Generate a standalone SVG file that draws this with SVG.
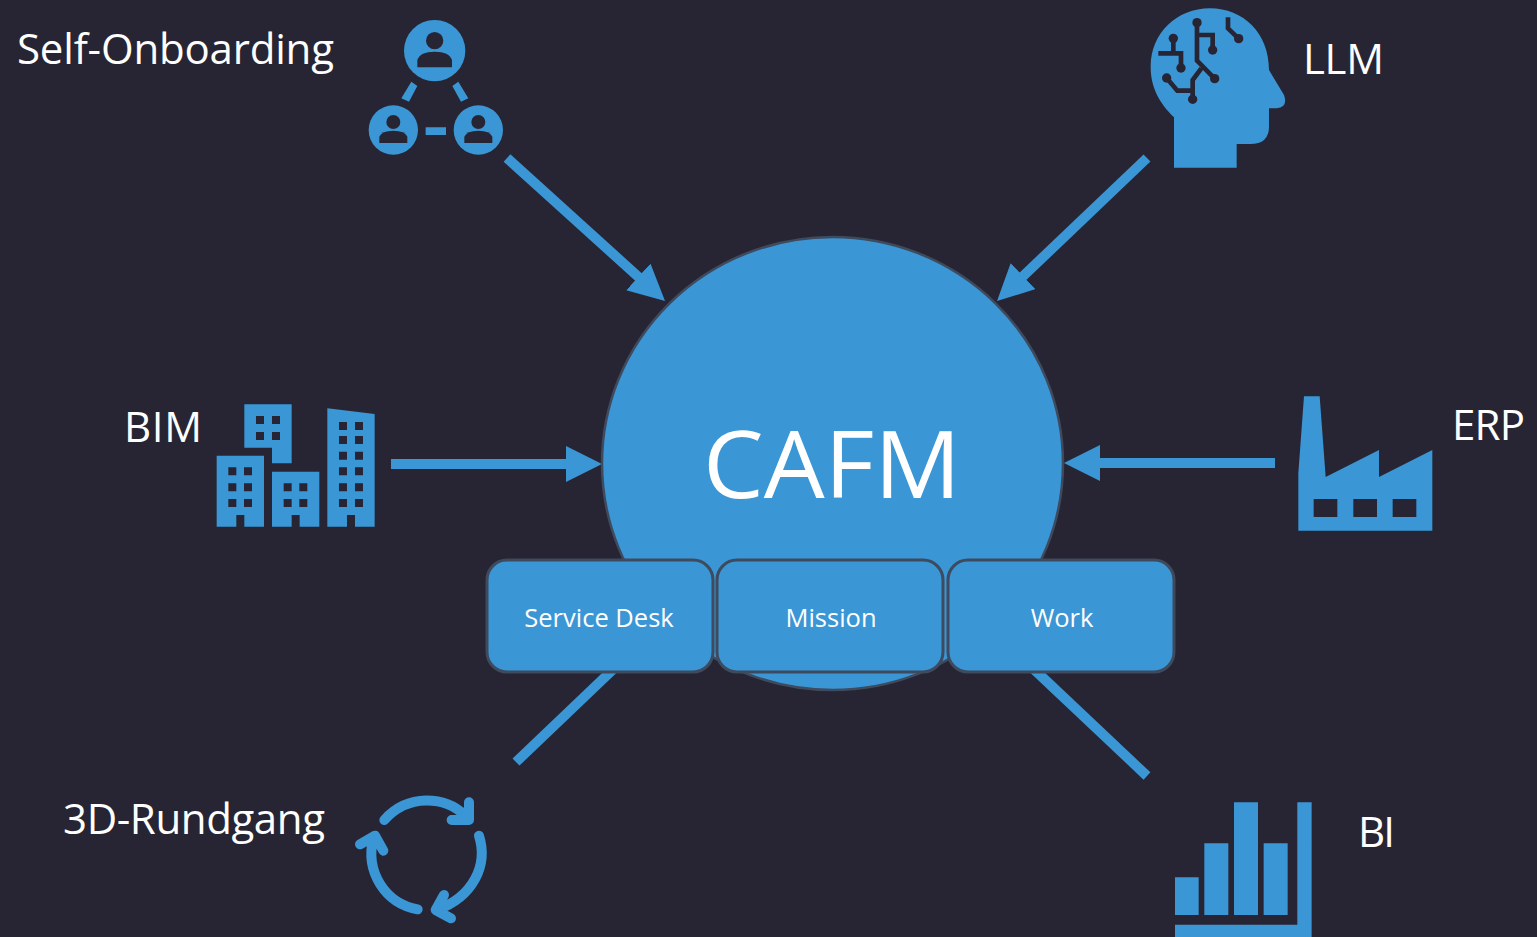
<svg xmlns="http://www.w3.org/2000/svg" width="1537" height="937" viewBox="0 0 1537 937">
<style>
text{font-family:"Open Sans","Noto Sans","Liberation Sans",sans-serif;fill:#fff}
.b{fill:#3B96D5}
.d{fill:#272533}
.c{fill:none;stroke:#272533;stroke-width:14;stroke-linejoin:miter}
.e{fill:none;stroke:#3B96D5;stroke-width:10}
.r{fill:none;stroke:#3B96D5;stroke-width:30;stroke-linecap:round;stroke-linejoin:round}
.box{fill:#3B96D5;stroke:#3E4A5E;stroke-width:3}
.l{font-size:42px}
.s{font-size:25.500px;text-anchor:middle}
</style>
<defs>
<marker id="ah" markerUnits="userSpaceOnUse" markerWidth="38" markerHeight="38" refX="16" refY="18" orient="auto"><path d="M0 0L36 18L0 36Z" fill="#3B96D5"/></marker>
</defs>
<rect width="1537" height="937" fill="#272533"/>
<g id="connectors">
<line class="e" x1="507" y1="158" x2="650.200" y2="287.600" marker-end="url(#ah)"/>
<line class="e" x1="1147" y1="158" x2="1011.500" y2="287.200" marker-end="url(#ah)"/>
<line class="e" x1="391" y1="464" x2="582" y2="464" marker-end="url(#ah)"/>
<line class="e" x1="1275" y1="463" x2="1084" y2="463" marker-end="url(#ah)"/>
<line class="e" x1="516" y1="762" x2="625" y2="658"/>
<line class="e" x1="1147" y1="776" x2="1022" y2="658"/>
</g>
<g id="cafm">
<ellipse cx="832.500" cy="463.500" rx="230.500" ry="226.500" class="b" stroke="#3E4A5E" stroke-width="2.500"/>
<text x="703" y="498" font-size="94" textLength="258" lengthAdjust="spacingAndGlyphs">CAFM</text>
</g>
<g id="service-desk"><rect class="box" x="487" y="560" width="226" height="112" rx="20"/><text class="s" x="599" y="627">Service Desk</text></g>
<g id="mission"><rect class="box" x="717" y="560" width="226" height="112" rx="20"/><text class="s" x="831" y="627">Mission</text></g>
<g id="work"><rect class="box" x="948" y="560" width="226" height="112" rx="20"/><text class="s" x="1062" y="627">Work</text></g>
<g id="self-onboarding">
<text class="l" x="17" y="64" textLength="317">Self-Onboarding</text>
<g transform="translate(350 10) scale(.3333)">
<circle class="b" cx="254" cy="122" r="92"/><circle class="b" cx="130" cy="360" r="74"/><circle class="b" cx="385" cy="360" r="74"/>
<path class="b" d="M184 215L202 228L177 275L154 265ZM325 215L307 228L333 275L355 265ZM227 352H288V375H227Z"/>
<circle class="d" cx="254" cy="92" r="26"/><path class="d" d="M202 172V150Q210 125 254 125Q298 125 306 150V172Z"/>
<circle class="d" cx="130" cy="336" r="21"/><path class="d" d="M88 399V380Q95 362 130 362Q165 362 172 380V399Z"/>
<circle class="d" cx="385" cy="336" r="21"/><path class="d" d="M343 399V380Q350 362 385 362Q420 362 427 380V399Z"/>
</g>
</g>
<g id="llm">
<text class="l" x="1303" y="74" textLength="81">LLM</text>
<g transform="translate(1140 0) scale(.3333)">
<path class="b" d="M102 503V352C60 310 32 265 32 200C32 100 110 25 210 25C310 25 387 100 387 210L432 285Q445 322 410 325H387V380Q387 432 330 432H290V503Z"/>
<path class="c" d="M171 68V182L224 236M171 105H218V150M184 205L158 240V298M158 272H112L80 234M100 115V160H55M100 160H123V204M264 52V85L296 116"/>
<circle class="d" cx="171" cy="68" r="14"/><circle class="d" cx="218" cy="150" r="14"/><circle class="d" cx="100" cy="115" r="14"/><circle class="d" cx="123" cy="204" r="14"/><circle class="d" cx="224" cy="236" r="14"/><circle class="d" cx="80" cy="234" r="14"/><circle class="d" cx="158" cy="298" r="14"/><circle class="d" cx="296" cy="116" r="14"/>
</g>
</g>
<g id="bim">
<text class="l" x="124" y="442" textLength="78">BIM</text>
<g transform="translate(205 395) scale(.3333)">
<path class="b" d="M118 28H260V205H201V158H118ZM35 182H177V395H118V360H94V395H35ZM201 230H343V395H284V360H260V395H201ZM367 40L509 57V395H450V360H426V395H367Z"/>
<path class="d" d="M153 63h24v24h-24zM201 63h24v24h-24zM153 111h24v24h-24zM201 111h24v24h-24zM70 217h24v24h-24zM117 217h24v24h-24zM70 265h24v24h-24zM117 265h24v24h-24zM70 312h24v24h-24zM117 312h24v24h-24zM236 265h24v24h-24zM283 265h24v24h-24zM236 312h24v24h-24zM283 312h24v24h-24zM402 81h24v24h-24zM450 81h24v24h-24zM402 123h24v24h-24zM450 123h24v24h-24zM402 170h24v24h-24zM450 170h24v24h-24zM402 217h24v24h-24zM450 217h24v24h-24zM402 265h24v24h-24zM450 265h24v24h-24zM402 312h24v24h-24zM450 312h24v24h-24z"/>
</g>
</g>
<g id="erp">
<text class="l" x="1452" y="440" textLength="73">ERP</text>
<g transform="translate(1285 385) scale(.3333)">
<path class="b" d="M40 437V265L57 34H104L122 276L282 195V276L442 195V437Z"/>
<path class="d" d="M86 342h71v54h-71zM205 342h71v54h-71zM323 342h71v54h-71z"/>
</g>
</g>
<g id="rundgang">
<text class="l" x="63" y="834" textLength="262">3D-Rundgang</text>
<g transform="translate(345 785) scale(.3333)">
<path class="r" d="M118 105C190 25 300 35 358 90M372 52V105H320M402 152C430 240 385 335 275 375M297 330L272 375L318 400M218 373C120 355 60 260 85 160M45 178L90 152L115 197"/>
</g>
</g>
<g id="bi">
<text class="l" x="1358" y="847" textLength="37">BI</text>
<g transform="translate(1165 790) scale(.3333)">
<path class="b" d="M30 262H101V375H30ZM118 160H190V375H118ZM207 37H279V375H207ZM296 160H368V375H296ZM30 404H397V37H440V441H30Z"/>
</g>
</g>
</svg>
